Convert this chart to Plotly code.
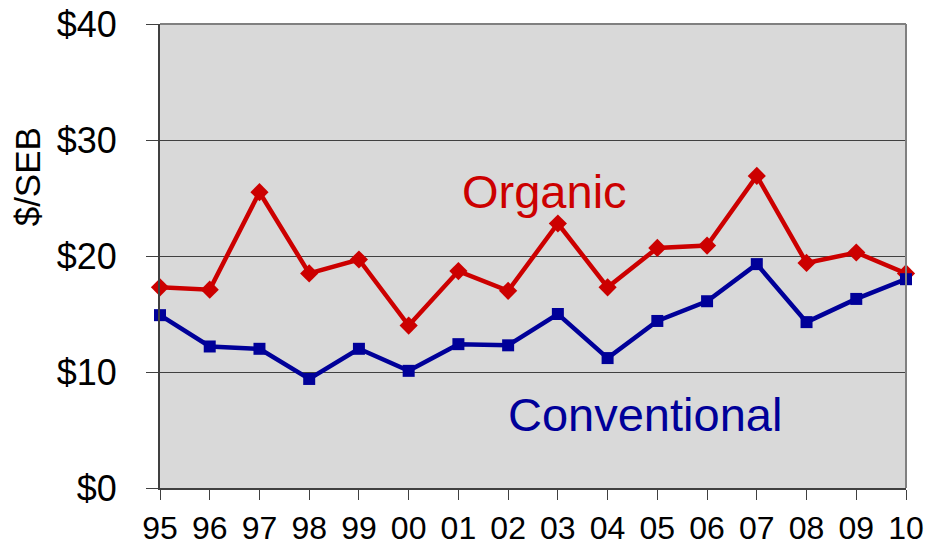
import plotly.graph_objects as go

years = ["95", "96", "97", "98", "99", "00", "01", "02", "03", "04", "05", "06", "07", "08", "09", "10"]
organic = [17.3, 17.1, 25.5, 18.5, 19.7, 14.0, 18.7, 17.0, 22.8, 17.3, 20.7, 20.9, 26.9, 19.4, 20.3, 18.5]
conventional = [14.9, 12.2, 12.0, 9.4, 12.0, 10.1, 12.4, 12.3, 15.0, 11.2, 14.4, 16.1, 19.3, 14.3, 16.3, 18.0]
y_ticks = [0, 10, 20, 30, 40]
y_ticktext = ["$0", "$10", "$20", "$30", "$40"]

xs = list(range(len(years)))
FONT = "Liberation Sans, Arial, sans-serif"

fig = go.Figure()
fig.add_trace(go.Scatter(
    x=xs, y=organic, mode="lines+markers", name="Organic",
    line=dict(color="#CC0000", width=4.5),
    marker=dict(symbol="diamond", size=14, color="#CC0000"),
    cliponaxis=False,
))
fig.add_trace(go.Scatter(
    x=xs, y=conventional, mode="lines+markers", name="Conventional",
    line=dict(color="#000099", width=4.5),
    marker=dict(symbol="square", size=12, color="#000099"),
    cliponaxis=False,
))

fig.add_annotation(x=7.73, y=25.6, text="Organic", showarrow=False,
                   font=dict(family=FONT, size=47, color="#CC0000"))
fig.add_annotation(x=9.76, y=6.3, text="Conventional", showarrow=False,
                   font=dict(family=FONT, size=47, color="#000099"))
fig.add_annotation(xref="paper", yref="paper", x=-0.178, y=0.67, text="$/SEB",
                   textangle=-90, showarrow=False, xanchor="center", yanchor="middle",
                   font=dict(family=FONT, size=35, color="black"))

# gray top/right border of plot area
fig.add_shape(type="line", xref="paper", yref="paper", x0=0, x1=1, y0=1, y1=1,
              line=dict(color="#808080", width=2))
fig.add_shape(type="line", xref="paper", yref="paper", x0=1, x1=1, y0=0, y1=1,
              line=dict(color="#808080", width=2))

fig.update_layout(
    width=925, height=546,
    margin=dict(l=160, r=19, t=24, b=58),
    paper_bgcolor="white",
    plot_bgcolor="#D9D9D9",
    showlegend=False,
    font=dict(family=FONT, color="black"),
)
fig.update_xaxes(
    range=[0, 15], tickvals=xs, ticktext=years,
    tickfont=dict(family=FONT, size=32),
    ticks="outside", ticklen=10, tickcolor="#404040", tickwidth=1,
    ticklabelstandoff=1, ticklabeloverflow="allow",
    showgrid=False, zeroline=False, automargin=False,
    showline=True, linecolor="#404040", linewidth=2,
)
fig.update_yaxes(
    range=[0, 40], tickvals=y_ticks, ticktext=y_ticktext,
    tickfont=dict(family=FONT, size=36),
    ticks="outside", ticklen=12, tickcolor="#404040", tickwidth=1,
    ticklabelstandoff=22, ticklabeloverflow="allow",
    showgrid=True, gridcolor="#404040", gridwidth=1, zeroline=False,
    automargin=False,
    showline=True, linecolor="#404040", linewidth=2,
)

fig.write_html(
    "out.html",
    config={"displayModeBar": False},
    post_script="document.body.style.margin='0';document.body.style.overflow='hidden';",
)
